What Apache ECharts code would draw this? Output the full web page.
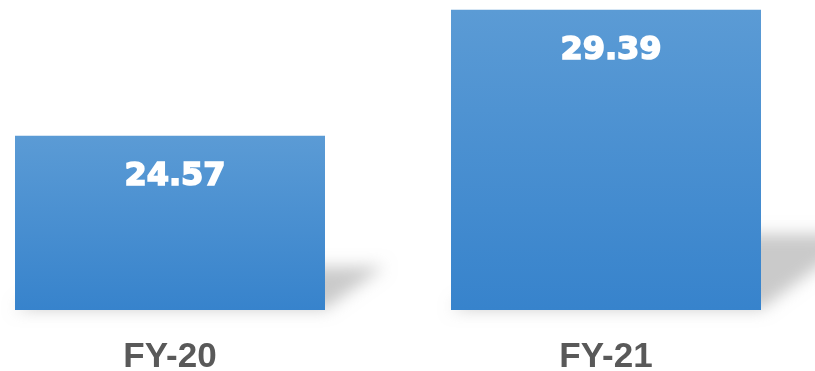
<!DOCTYPE html>
<html>
<head>
<meta charset="utf-8">
<script src="https://cdn.jsdelivr.net/npm/echarts@6/dist/echarts.min.js"></script>
<style>
  html, body { margin: 0; padding: 0; background: #ffffff; }
  #chart { width: 815px; height: 371px; }
</style>
</head>
<body>
<div id="chart"></div>
<script>
// Fiscal years and their values
const categories = ['FY-20', 'FY-21'];
const values = [24.57, 29.39];

const axisMin = 17.9;
const axisMax = 29.5;
const barWidth = 310;

const chart = echarts.init(document.getElementById('chart'), null, { renderer: 'canvas' });

// Slanted floor shadow behind each bar, sized from the bar's own height
function renderShadow(params, api) {
  const idx = api.value(0);
  const v = api.value(1);
  const base = api.coord([idx, axisMin]);
  const top = api.coord([idx, v]);
  const h = base[1] - top[1];
  const half = barWidth / 2;
  const cx = base[0];
  const by = base[1];
  const rise = h * 0.26;
  const shift = h * 0.34;
  const far = 3000;
  return {
    type: 'polygon',
    shape: {
      points: [
        [cx - half - far, by - 3],
        [cx + half - far, by - 3],
        [cx + half + shift - far, by - rise],
        [cx - half + shift - far, by - rise]
      ]
    },
    style: {
      fill: '#000',
      shadowColor: 'rgba(150,150,150,0.5)',
      shadowBlur: 16,
      shadowOffsetX: far,
      shadowOffsetY: 2
    },
    z2: 0
  };
}

chart.setOption({
  animation: false,
  grid: { left: -48, right: -9, top: 7, bottom: 61, outerBoundsMode: 'none' },
  xAxis: {
    type: 'category',
    data: categories,
    axisLine: { show: false },
    axisTick: { show: false },
    axisLabel: {
      margin: 30,
      fontFamily: 'Liberation Sans, Arial, sans-serif',
      fontWeight: 'bold',
      fontSize: 35,
      color: '#595959'
    }
  },
  yAxis: {
    type: 'value',
    min: axisMin,
    max: axisMax,
    show: false,
    splitLine: { show: false }
  },
  series: [
    {
      type: 'custom',
      renderItem: renderShadow,
      data: categories.map((c, i) => [i, values[i]]),
      z: 1,
      silent: true
    },
    {
      type: 'bar',
      data: values,
      barWidth: barWidth,
      z: 2,
      itemStyle: {
        color: new echarts.graphic.LinearGradient(0, 0, 0, 1, [
          { offset: 0, color: '#5b9bd5' },
          { offset: 1, color: '#3783cc' }
        ])
      },
      label: {
        show: true,
        position: 'insideTop',
        distance: 25,
        offset: [5, 0],
        formatter: p => p.value.toFixed(2),
        fontFamily: 'DejaVu Sans, sans-serif',
        fontWeight: 'bold',
        fontSize: 32,
        color: '#ffffff',
        textBorderColor: '#ffffff',
        textBorderWidth: 1.6
      }
    }
  ]
});
</script>
</body>
</html>
